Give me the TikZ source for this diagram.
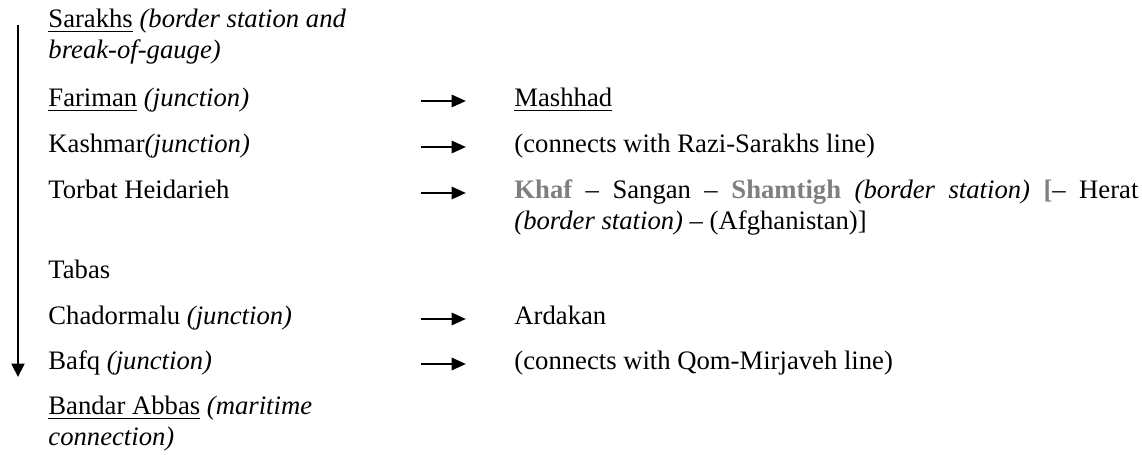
\documentclass[tikz,border=0pt]{standalone}
\usepackage{fontspec}
\setmainfont{Liberation Serif}
\usetikzlibrary{arrows.meta, positioning}
\definecolor{stn}{HTML}{7F7F7F}

\begin{document}
\begin{tikzpicture}[x=0.45pt, y=-0.45pt,
    station/.style={anchor=base west, inner sep=0pt, font=\fontsize{12}{13.8}\selectfont},
    link/.style={-{Triangle[length=6.5pt, width=5.5pt]}, line width=1.2pt},
    mainline/.style={-{Triangle[length=6pt, width=5.8pt]}, line width=0.9pt}]

    \useasboundingbox (0,0) rectangle (1142,455);

    % Stations along the main line (left column)
    \node[station] (sarakhs)  at (48,28)  {\underline{Sarakhs} \textit{(border station and}};
    \node[station] (sarakhsb) at (48,59)  {\textit{break-of-gauge)}};
    \node[station] (fariman)  at (48,107) {\underline{Fariman} \textit{(junction)}};
    \node[station] (kashmar)  at (48,153) {Kashmar\textit{(junction)}};
    \node[station] (torbat)   at (48,199) {Torbat Heidarieh};
    \node[station] (tabas)    at (48,279) {Tabas};
    \node[station] (chador)   at (48,325) {Chadormalu \textit{(junction)}};
    \node[station] (bafq)     at (48,370) {Bafq \textit{(junction)}};
    \node[station] (bandar)   at (48,415) {\underline{Bandar Abbas} \textit{(maritime}};
    \node[station] (bandarb)  at (48,446) {\textit{connection)}};

    % Branches (right column)
    \node[station] (mashhad) at (514,107) {\underline{Mashhad}};
    \node[station] (razi)    at (514,153) {(connects with Razi-Sarakhs line)};
    \node[station] (khaf)    at (514,199) {\makebox[280.8pt][s]{\textbf{\color{stn}Khaf} -- Sangan -- \textbf{\color{stn}Shamtigh} \textit{(border station)} \textbf{\color{stn}[}-- Herat}};
    \node[station] (khafb)   at (514,230) {\textit{(border station)} -- (Afghanistan)]};
    \node[station] (ardakan) at (514,325) {Ardakan};
    \node[station] (qom)     at (514,370) {(connects with Qom-Mirjaveh line)};

    % Main line direction
    \coordinate (top) at (18,25);
    \coordinate (bot) at (18,377);
    \draw[mainline] (top) -- (bot);

    % Junction arrows
    \foreach \y/\n in {107/1, 153/2, 199/3, 325/4, 370/5} {
        \coordinate (js\n) at (421,\y-6);
        \coordinate (je\n) at (466,\y-6);
        \draw[link] (js\n) -- (je\n);
    }

\end{tikzpicture}
\end{document}
